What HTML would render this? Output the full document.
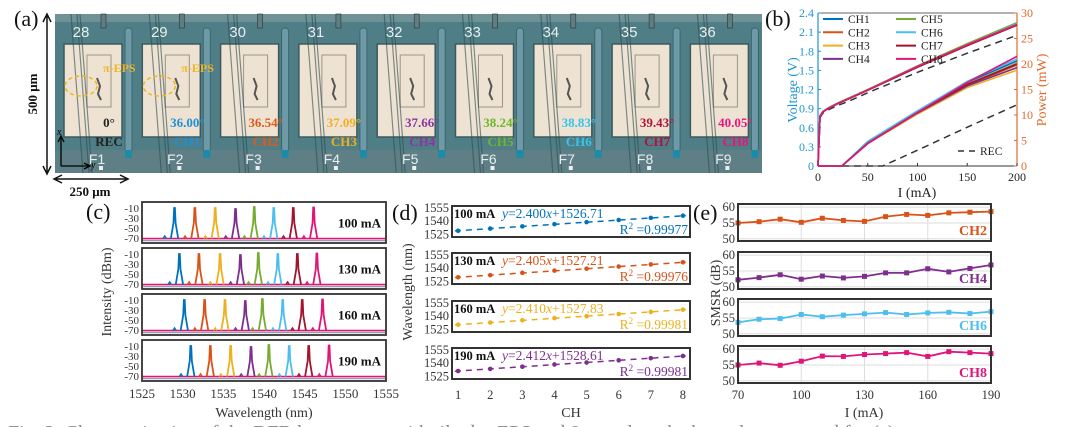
<!DOCTYPE html>
<html><head><meta charset="utf-8"><style>
html,body{margin:0;padding:0;background:#fff;}
svg{display:block;font-family:"Liberation Serif",serif;}
</style></head><body>
<svg id="fig" width="1080" height="427" viewBox="0 0 1080 427" xmlns="http://www.w3.org/2000/svg">
<g id="photo"></g>
<g id="pb"></g>
<g id="pc"></g>
<g id="pd"></g>
<g id="pe"></g>
<text x="8" y="439" font-size="20" fill="#888">Fig. 2. Characterization of the DFB laser arrays with tilted π-EPS and 8 wavelength channels, measured for (a)</text>
</svg>
<script>
// ---------- data ----------
const chNames = ["CH1","CH2","CH3","CH4","CH5","CH6","CH7","CH8"];
const chColors = ["#0072BD","#D95319","#EDB120","#7E2F8E","#77AC30","#4DBEEE","#A2142F","#E0157A"];
const cellNumbers = ["28","29","30","31","32","33","34","35","36"];
const cellF = ["F1","F2","F3","F4","F5","F6","F7","F8","F9"];
const cellAngles = ["0°","36.00°","36.54°","37.09°","37.66°","38.24°","38.83°","39.43°","40.05°"];
const cellCH = ["REC","CH1","CH2","CH3","CH4","CH5","CH6","CH7","CH8"];
const cellColors = ["#222","#1f8fd6","#e05a1a","#f0b020","#8a35a0","#6fb62a","#35c4ee","#b0123a","#e8157f"];

const vI = [0,2,5,10,20,30,50,100,150,200];
const vCH1 = [0,0.78,0.85,0.9,0.98,1.05,1.19,1.55,1.89,2.22];
const vCH2 = [0,0.78,0.85,0.9,0.98,1.05,1.19,1.55,1.89,2.21];
const vCH3 = [0,0.78,0.85,0.9,0.98,1.05,1.19,1.55,1.89,2.21];
const vCH4 = [0,0.78,0.85,0.9,0.98,1.05,1.19,1.55,1.89,2.22];
const vCH5 = [0,0.79,0.86,0.91,0.99,1.06,1.2,1.57,1.92,2.25];
const vCH6 = [0,0.78,0.85,0.9,0.98,1.05,1.19,1.55,1.9,2.23];
const vCH7 = [0,0.78,0.85,0.9,0.98,1.05,1.19,1.55,1.89,2.21];
const vCH8 = [0,0.78,0.85,0.9,0.98,1.05,1.19,1.56,1.9,2.22];
const vREC = [0,0.76,0.83,0.88,0.95,1.01,1.15,1.47,1.77,2.05];
const pI = [0,24,50,100,150,200];
const pCH1 = [0,0,4.8,10.8,16.4,20.6];
const pCH2 = [0,0,4.5,10.4,15.8,19.8];
const pCH3 = [0,0,4.4,10.2,15.4,18.8];
const pCH4 = [0,0,4.5,10.4,15.7,19.3];
const pCH5 = [0,0,4.6,10.5,16.0,20.2];
const pCH6 = [0,0,4.8,10.8,16.6,21.0];
const pCH7 = [0,0,4.5,10.5,16.0,20.0];
const pCH8 = [0,0,4.4,10.5,16.4,21.5];
const pRI = [0,65,100,150,200];
const pREC = [0,0,3.1,7.6,12.0];

const currents = ["100 mA","130 mA","160 mA","190 mA"];
const peaks100 = [1529.0,1531.5,1534.0,1536.5,1538.8,1541.2,1543.6,1546.1];
const peaks130 = [1529.6,1532.0,1534.6,1537.1,1539.3,1541.7,1544.1,1546.5];
const peaks160 = [1530.2,1532.7,1535.2,1537.7,1539.8,1542.3,1544.7,1547.2];
const peaks190 = [1531.0,1533.4,1535.9,1538.4,1540.6,1543.1,1545.5,1548.0];
const peakLevels = [-10,-10,-10,-12,-8,-10,-10,-9];
const cTicksX = [1525,1530,1535,1540,1545,1550,1555];
const cTicksY = [-10,-30,-50,-70];

const fitSlope = [2.400,2.405,2.410,2.412];
const fitIntercept = [1526.71,1527.21,1527.83,1528.61];
const fitR2 = ["0.99977","0.99976","0.99981","0.99981"];
const fitColors = ["#0072BD","#D95319","#EDB120","#7E2F8E"];
const chIdx = [1,2,3,4,5,6,7,8];
const dTicksY = [1525,1540,1555];

const smsrI = [70,80,90,100,110,120,130,140,150,160,170,180,190];
const smsrCH2 = [55,55.4,56.2,55.2,56.5,55.8,55.5,57,57.7,57.4,58.2,58.4,58.6];
const smsrCH4 = [52.2,52.9,53.8,52.4,53.4,52.8,53.3,54.4,54.4,55.7,54.7,55.8,56.9];
const smsrCH6 = [53.6,54.6,54.8,56.1,55.4,55.9,56.3,56.7,56.1,56.6,56.8,56.4,57];
const smsrCH8 = [55,55.6,54.9,56.2,57.8,57.7,58.3,58.6,58.9,57.7,59.2,58.9,58.6];
const smsrNames = ["CH2","CH4","CH6","CH8"];
const smsrColors = ["#D95319","#7E2F8E","#4DBEEE","#E0157A"];
const eTicksX = [70,100,130,160,190];
const eTicksY = [50,55,60];

// ---------- helpers ----------
const NS = "http://www.w3.org/2000/svg";
function mk(parent, tag, attrs, text){
  const e = document.createElementNS(NS, tag);
  for (const k in attrs) e.setAttribute(k, attrs[k]);
  if (text !== undefined) e.textContent = text;
  parent.appendChild(e);
  return e;
}
function lin(d0,d1,r0,r1){ return v => r0 + (v-d0)/(d1-d0)*(r1-r0); }

// ---------- (a) photo ----------
const ph = document.getElementById("photo");
let e;
e = mk(ph,"text",{x:14,y:26,"font-size":22,fill:"#111"},"(a)");
 
e = mk(ph,"rect",{x:55,y:14,width:707,height:159,fill:"#4f7e86"});
 
mk(ph,"rect",{x:55,y:14,width:707,height:8,fill:"#6f9296"});
mk(ph,"rect",{x:55,y:150,width:707,height:23,fill:"#5e7f86"});
const cellX = lin(0,1,55,133.3);
for (let i=0;i<9;i++){
  const x0 = cellX(i);
  const g = mk(ph,"g",{});
  
  
  mk(g,"rect",{x:x0+9,y:44,width:58,height:93,fill:"#eee3d3",stroke:"#3c5a5e","stroke-width":1.5});
  mk(g,"rect",{x:x0+32,y:55,width:24,height:52,fill:"none",stroke:"#9a948a","stroke-width":1});
  mk(g,"path",{d:`M${x0+42} 78 l3 8 l-2 8 l3 6`,stroke:"#555","stroke-width":2,fill:"none"});
  mk(g,"rect",{x:x0+70,y:28,width:7,height:124,rx:3,fill:"#6d9aa6",stroke:"#3d6670"});
  mk(g,"rect",{x:x0+70,y:150,width:7,height:8,fill:"#1d8aa8"});
  mk(g,"path",{d:`M${x0+16} 14 L${x0+28} 173 M${x0+22} 14 L${x0+34} 173 M${x0+25} 14 L${x0+37} 173`,stroke:"#2e4d50","stroke-width":1.2,"stroke-opacity":0.6,fill:"none"});
  mk(g,"rect",{x:x0+46,y:14,width:5,height:14,fill:"#5d7f84",stroke:"#333","stroke-width":0.6});
  mk(g,"rect",{x:x0+44,y:166,width:4,height:4,fill:"#eee"});
  e = mk(g,"text",{x:x0+26,y:37,"font-size":15,fill:"#e8eef0","text-anchor":"middle","font-family":"Liberation Sans, sans-serif"},cellNumbers[i]);
   
  e = mk(g,"text",{x:x0+42,y:164,"font-size":14,fill:"#e8eef0","text-anchor":"middle","font-family":"Liberation Sans, sans-serif"},cellF[i]);
   
  e = mk(g,"text",{x:x0+54,y:127,"font-size":13,"font-weight":"bold",fill:cellColors[i],"text-anchor":"middle"},cellAngles[i]);
   
  e = mk(g,"text",{x:x0+54,y:146,"font-size":13,"font-weight":"bold",fill:cellColors[i],"text-anchor":"middle"},cellCH[i]);
   
  if (i<2){
    e = mk(g,"text",{x:x0+48,y:72,"font-size":12,"font-weight":"bold",fill:"#f2b51e"},"π-EPS");
     
    mk(g,"ellipse",{cx:x0+26,cy:86,rx:16,ry:10,fill:"none",stroke:"#f2b51e","stroke-width":1.5,"stroke-dasharray":"4 3"});
  }
}
// scale arrows
mk(ph,"path",{d:"M47 16 L47 172 M43 22 L47 14 L51 22 M43 166 L47 174 L51 166",stroke:"#111","stroke-width":1.5,fill:"none"});
e = mk(ph,"text",{x:0,y:0,"font-size":13,"font-weight":"bold",fill:"#111","text-anchor":"middle",transform:"translate(37,94) rotate(-90)"},"500 μm");
 
mk(ph,"path",{d:"M56 179 L126 179 M62 175 L54 179 L62 183 M120 175 L128 179 L120 183",stroke:"#111","stroke-width":1.5,fill:"none"});
e = mk(ph,"text",{x:90,y:196,"font-size":13,"font-weight":"bold",fill:"#111","text-anchor":"middle"},"250 μm");
 
mk(ph,"path",{d:"M61 166 L61 138 M58 142 L61 136 L64 142 M61 166 L88 166 M84 163 L90 166 L84 169",stroke:"#000","stroke-width":1.3,fill:"none"});
mk(ph,"text",{x:57,y:135,"font-size":10,"font-style":"italic",fill:"#000"},"x");
mk(ph,"text",{x:91,y:168,"font-size":10,"font-style":"italic",fill:"#000"},"y");

// ---------- (b) LIV ----------
const pb = document.getElementById("pb");
const bx = lin(0,200,818,1017), bv = lin(0,2.4,166,13), bp = lin(0,30,166,13);
e = mk(pb,"text",{x:765,y:26,"font-size":22,fill:"#111"},"(b)");
 
mk(pb,"rect",{x:818,y:13,width:199,height:153,fill:"#fff",stroke:"none"});
mk(pb,"line",{x1:818,y1:13,x2:1017,y2:13,stroke:"#333","stroke-width":0.8});
mk(pb,"line",{x1:818,y1:166,x2:1017,y2:166,stroke:"#333","stroke-width":1});
mk(pb,"line",{x1:818,y1:13,x2:818,y2:166,stroke:"#1f95d0","stroke-width":1.2});
mk(pb,"line",{x1:1017,y1:13,x2:1017,y2:166,stroke:"#e06a2a","stroke-width":1.2});
[0,0.3,0.6,0.9,1.2,1.5,1.8,2.1,2.4].forEach(v=>{
  mk(pb,"line",{x1:818,y1:bv(v),x2:821,y2:bv(v),stroke:"#1f95d0"});
  e = mk(pb,"text",{x:814,y:bv(v)+4,"font-size":12,fill:"#1f95d0","text-anchor":"end"},String(v));
   
});
[0,5,10,15,20,25,30].forEach(v=>{
  mk(pb,"line",{x1:1014,y1:bp(v),x2:1017,y2:bp(v),stroke:"#e06a2a"});
  e = mk(pb,"text",{x:1021,y:bp(v)+4,"font-size":12,fill:"#e06a2a"},String(v));
   
});
[0,50,100,150,200].forEach(v=>{
  mk(pb,"line",{x1:bx(v),y1:166,x2:bx(v),y2:163,stroke:"#333"});
  e = mk(pb,"text",{x:bx(v),y:181,"font-size":12,fill:"#222","text-anchor":"middle"},String(v));
   
});
e = mk(pb,"text",{x:917,y:197,"font-size":14,fill:"#222","text-anchor":"middle"},"I (mA)");
 
e = mk(pb,"text",{x:0,y:0,"font-size":14,fill:"#1f95d0","text-anchor":"middle",transform:"translate(797,90) rotate(-90)"},"Voltage (V)");
 
e = mk(pb,"text",{x:0,y:0,"font-size":14,fill:"#e06a2a","text-anchor":"middle",transform:"translate(1046,90) rotate(-90)"},"Power (mW)");
 
function pathXY(xs, ys, fx, fy){ return xs.map((x,k)=>(k?"L":"M")+fx(x).toFixed(1)+" "+fy(ys[k]).toFixed(1)).join(" "); }
const vAll = [vCH1,vCH2,vCH3,vCH4,vCH5,vCH6,vCH7,vCH8];
const pAll = [pCH1,pCH2,pCH3,pCH4,pCH5,pCH6,pCH7,pCH8];
e = mk(pb,"path",{d:pathXY(vI,vREC,bx,bv),stroke:"#333","stroke-width":1.5,fill:"none","stroke-dasharray":"7 5"});
 
e = mk(pb,"path",{d:pathXY(pRI,pREC,bx,bp),stroke:"#333","stroke-width":1.5,fill:"none","stroke-dasharray":"7 5"});
 
for (let c=0;c<8;c++){
  e = mk(pb,"path",{d:pathXY(vI,vAll[c],bx,bv),stroke:chColors[c],"stroke-width":1.6,fill:"none"});
   
  e = mk(pb,"path",{d:pathXY(pI,pAll[c],bx,bp),stroke:chColors[c],"stroke-width":1.6,fill:"none"});
   
}
for (let c=0;c<8;c++){
  const col = c<4?0:1, row = c%4;
  const lx = 823 + col*73, ly = 19 + row*13.3;
  const g = mk(pb,"g",{});
  
  
  mk(g,"line",{x1:lx,y1:ly,x2:lx+20,y2:ly,stroke:chColors[c],"stroke-width":2});
  mk(g,"text",{x:lx+25,y:ly+4,"font-size":11.5,fill:"#222"},chNames[c]);
}
const lg = mk(pb,"g",{});
 
mk(lg,"line",{x1:958,y1:151,x2:976,y2:151,stroke:"#333","stroke-width":1.5,"stroke-dasharray":"6 5"});
mk(lg,"text",{x:980,y:155,"font-size":11.5,fill:"#222"},"REC");

// ---------- (c) spectra ----------
const pc = document.getElementById("pc");
const cx = lin(1525,1555,142,386);
const cTops = [202,248,294,340], cH = 41;
const peaksAll = [peaks100,peaks130,peaks160,peaks190];
e = mk(pc,"text",{x:86,y:219,"font-size":22,fill:"#111"},"(c)");
 
for (let s=0;s<4;s++){
  const top = cTops[s];
  const cy = lin(-80,2,top+cH,top);
  const g = mk(pc,"g",{});
  
  
  mk(g,"rect",{x:142,y:top,width:244,height:cH,fill:"#fff"});
  mk(g,"line",{x1:142,y1:cy(-75),x2:386,y2:cy(-75),stroke:"#9a9ab0","stroke-width":1.5});
  mk(g,"line",{x1:142,y1:cy(-71),x2:386,y2:cy(-71),stroke:"#E0157A","stroke-width":1.6});
  peaksAll[s].forEach((lam,c)=>{
    const lv = peakLevels[c];
    const d = `M${cx(lam-0.45)} ${cy(-71)} L${cx(lam-0.13)} ${cy(-40)} L${cx(lam-0.05)} ${cy(lv)} L${cx(lam+0.05)} ${cy(lv)} L${cx(lam+0.13)} ${cy(-40)} L${cx(lam+0.45)} ${cy(-71)}`;
    e = mk(g,"path",{d:d,stroke:chColors[c],"stroke-width":1.8,fill:"none"});
     
    mk(g,"path",{d:`M${cx(lam-1.4)} ${cy(-71)} L${cx(lam-1.2)} ${cy(-66)} L${cx(lam-1.0)} ${cy(-71)}`,stroke:chColors[c],"stroke-width":1.5,fill:"none"});
  });
  mk(g,"rect",{x:142,y:top,width:244,height:cH,fill:"none",stroke:"#333","stroke-width":1.8});
  cTicksY.forEach(v=>{
    e = mk(g,"text",{x:139,y:cy(v)+4,"font-size":11,fill:"#333","text-anchor":"end"},String(v));
     
  });
  e = mk(g,"text",{x:381,y:top+cH/2+5,"font-size":13,"font-weight":"bold",fill:"#111","text-anchor":"end"},currents[s]);
   
}
cTicksX.forEach(v=>{
  e = mk(pc,"text",{x:cx(v),y:398,"font-size":13,fill:"#333","text-anchor":"middle"},String(v));
   
});
e = mk(pc,"text",{x:264,y:417,"font-size":14,fill:"#333","text-anchor":"middle"},"Wavelength (nm)");
 
e = mk(pc,"text",{x:0,y:0,"font-size":14,fill:"#333","text-anchor":"middle",transform:"translate(111,292) rotate(-90)"},"Intensity (dBm)");
 

// ---------- (d) wavelength vs CH ----------
const pd = document.getElementById("pd");
const dx = lin(0.81,8.22,452,690);
const dTops = [206,253,301,348], dH = 31;
e = mk(pd,"text",{x:392,y:220,"font-size":22,fill:"#111"},"(d)");
 
for (let s=0;s<4;s++){
  const top = dTops[s];
  const dy = lin(1522,1557,top+dH,top);
  const g = mk(pd,"g",{});
  
  
  mk(g,"rect",{x:452,y:top,width:238,height:dH,fill:"#fff",stroke:"#333","stroke-width":2});
  const fx0 = 0.9, fx1 = 8.1;
  e = mk(g,"line",{x1:dx(fx0),y1:dy(fitSlope[s]*fx0+fitIntercept[s]),x2:dx(fx1),y2:dy(fitSlope[s]*fx1+fitIntercept[s]),stroke:fitColors[s],"stroke-width":1.5,"stroke-dasharray":"6 5"});
   
  peaksAll[s].forEach((lam,k)=>{
    e = mk(g,"circle",{cx:dx(chIdx[k]),cy:dy(lam),r:2.3,fill:fitColors[s]});
     
  });
  dTicksY.forEach(v=>{
    e = mk(g,"text",{x:449,y:dy(v)+4,"font-size":12.5,fill:"#333","text-anchor":"end"},String(v));
     
  });
  e = mk(g,"text",{x:454,y:top+12,"font-size":12.5,"font-weight":"bold",fill:"#111"},currents[s]);
   
  const eq = mk(g,"text",{x:502,y:top+12,"font-size":13.5,fill:fitColors[s]});
   
  mk(eq,"tspan",{"font-style":"italic"},"y");
  mk(eq,"tspan",{},"="+fitSlope[s].toFixed(3));
  mk(eq,"tspan",{"font-style":"italic"},"x");
  mk(eq,"tspan",{},"+"+fitIntercept[s].toFixed(2));
  const r2 = mk(g,"text",{x:688,y:top+28,"font-size":13.5,fill:fitColors[s],"text-anchor":"end"});
   
  mk(r2,"tspan",{},"R");
  mk(r2,"tspan",{"font-size":9,dy:-5},"2");
  mk(r2,"tspan",{dy:5}," =0."+fitR2[s].slice(2));
}
chIdx.forEach(v=>{
  e = mk(pd,"text",{x:dx(v),y:399,"font-size":12.5,fill:"#333","text-anchor":"middle"},String(v));
   
});
e = mk(pd,"text",{x:571,y:417,"font-size":14,fill:"#333","text-anchor":"middle"},"CH");
 
e = mk(pd,"text",{x:0,y:0,"font-size":14,fill:"#333","text-anchor":"middle",transform:"translate(412,292) rotate(-90)"},"Wavelength (nm)");
 

// ---------- (e) SMSR ----------
const pe = document.getElementById("pe");
const ex = lin(70,190,738,991);
const eTops = [204,252,299,346], eH = 37;
const smsrAll = [smsrCH2,smsrCH4,smsrCH6,smsrCH8];
e = mk(pe,"text",{x:693,y:220,"font-size":22,fill:"#111"},"(e)");
 
for (let s=0;s<4;s++){
  const top = eTops[s];
  const ey = lin(49.3,61,top+eH,top);
  const g = mk(pe,"g",{});
  
  
  mk(g,"rect",{x:738,y:top,width:253,height:eH,fill:"#fff"});
  [100,130,160].forEach(v=>mk(g,"line",{x1:ex(v),y1:top,x2:ex(v),y2:top+eH,stroke:"#ddd","stroke-width":1}));
  eTicksY.forEach(v=>mk(g,"line",{x1:738,y1:ey(v),x2:991,y2:ey(v),stroke:"#ddd","stroke-width":1}));
  e = mk(g,"path",{d:pathXY(smsrI,smsrAll[s],ex,ey),stroke:smsrColors[s],"stroke-width":1.8,fill:"none"});
   
  smsrI.forEach((iv,k)=>{
    e = mk(g,"rect",{x:ex(iv)-2.5,y:ey(smsrAll[s][k])-2.5,width:5,height:5,fill:smsrColors[s]});
     
  });
  mk(g,"rect",{x:738,y:top,width:253,height:eH,fill:"none",stroke:"#333","stroke-width":2});
  eTicksY.forEach(v=>{
    e = mk(g,"text",{x:735,y:ey(v)+4,"font-size":12.5,fill:"#333","text-anchor":"end"},String(v));
     
  });
  e = mk(g,"text",{x:987,y:top+eH-6,"font-size":14,"font-weight":"bold",fill:smsrColors[s],"text-anchor":"end"},smsrNames[s]);
   
}
eTicksX.forEach(v=>{
  e = mk(pe,"text",{x:ex(v),y:399,"font-size":12.5,fill:"#333","text-anchor":"middle"},String(v));
   
});
e = mk(pe,"text",{x:864,y:417,"font-size":14,fill:"#333","text-anchor":"middle"},"I (mA)");
 
e = mk(pe,"text",{x:0,y:0,"font-size":14,fill:"#333","text-anchor":"middle",transform:"translate(720,293) rotate(-90)"},"SMSR (dB)");
 
</script>
</body></html>
